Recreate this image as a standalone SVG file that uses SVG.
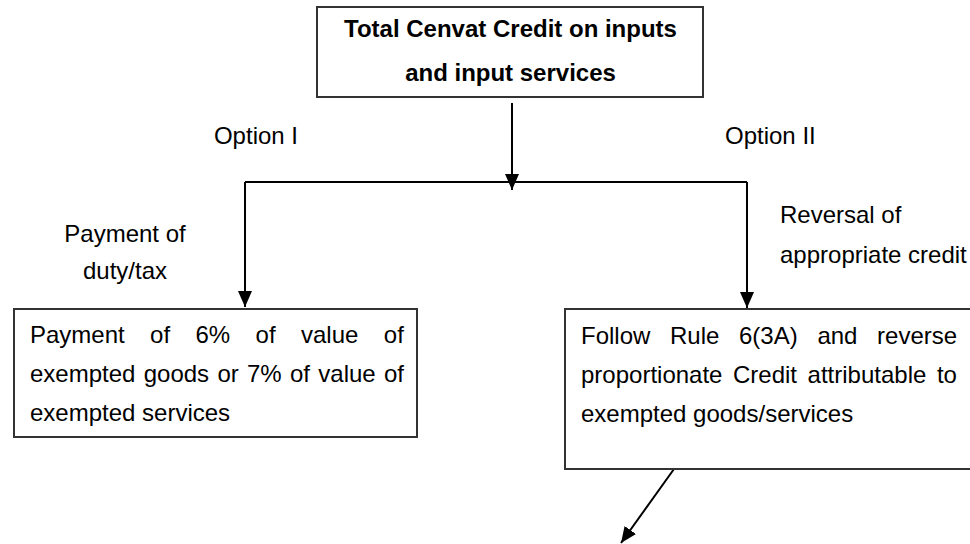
<svg xmlns="http://www.w3.org/2000/svg" width="970" height="544" viewBox="0 0 970 544">
<style>
text{font-family:"Liberation Sans",Arial,sans-serif;font-size:24px;fill:#000}
.title{font-weight:bold}
.box{fill:#fff;stroke:#333;stroke-width:2}
.conn{stroke:#000;stroke-width:2;fill:none}
</style>
<defs>
<marker id="ah" markerUnits="userSpaceOnUse" markerWidth="16" markerHeight="16" viewBox="0 0 16 14" refX="16" refY="7" orient="auto">
<path d="M0,0 L16,7 L0,14 z" fill="#000"/>
</marker>
</defs>
<rect width="970" height="544" fill="#fff"/>
<g id="connectors">
<line class="conn" x1="512" y1="103" x2="512" y2="190" marker-end="url(#ah)"/>
<polyline class="conn" points="245,182 747,182"/>
<line class="conn" x1="245" y1="182" x2="245" y2="307" marker-end="url(#ah)"/>
<line class="conn" x1="747" y1="182" x2="747" y2="308" marker-end="url(#ah)"/>
<line class="conn" x1="674" y1="469" x2="621" y2="543" marker-end="url(#ah)"/>
</g>
<g id="labels">
<text x="298" y="144" text-anchor="end">Option I</text>
<text x="725" y="144">Option II</text>
<text x="125" y="242" text-anchor="middle">Payment of</text>
<text x="125" y="279" text-anchor="middle">duty/tax</text>
<text x="780" y="223">Reversal of</text>
<text x="780" y="263">appropriate credit</text>
</g>
<g id="node-total">
<rect class="box" x="317" y="7" width="386" height="90"/>
<text class="title" x="510.5" y="37" text-anchor="middle">Total Cenvat Credit on inputs</text>
<text class="title" x="510.5" y="81" text-anchor="middle">and input services</text>
</g>
<g id="node-option1">
<rect class="box" x="14" y="309" width="403" height="128"/>
<text y="343"><tspan x="30">Payment</tspan><tspan x="150.1">of</tspan><tspan x="195.5">6%</tspan><tspan x="255.6">of</tspan><tspan x="301">value</tspan><tspan x="383.8">of</tspan></text>
<text y="382"><tspan x="30">exempted</tspan><tspan x="143.7">goods</tspan><tspan x="217.4">or</tspan><tspan x="247">7%</tspan><tspan x="290">of</tspan><tspan x="318.3">value</tspan><tspan x="384">of</tspan></text>
<text x="30" y="421">exempted services</text>
</g>
<g id="node-option2">
<rect class="box" x="565" y="309" width="410" height="160"/>
<text y="344"><tspan x="581">Follow</tspan><tspan x="670">Rule</tspan><tspan x="739">6(3A)</tspan><tspan x="817.4">and</tspan><tspan x="877.1">reverse</tspan></text>
<text y="383"><tspan x="581">proportionate</tspan><tspan x="733">Credit</tspan><tspan x="807.6">attributable</tspan><tspan x="936.9">to</tspan></text>
<text x="581" y="422">exempted goods/services</text>
</g>
</svg>
